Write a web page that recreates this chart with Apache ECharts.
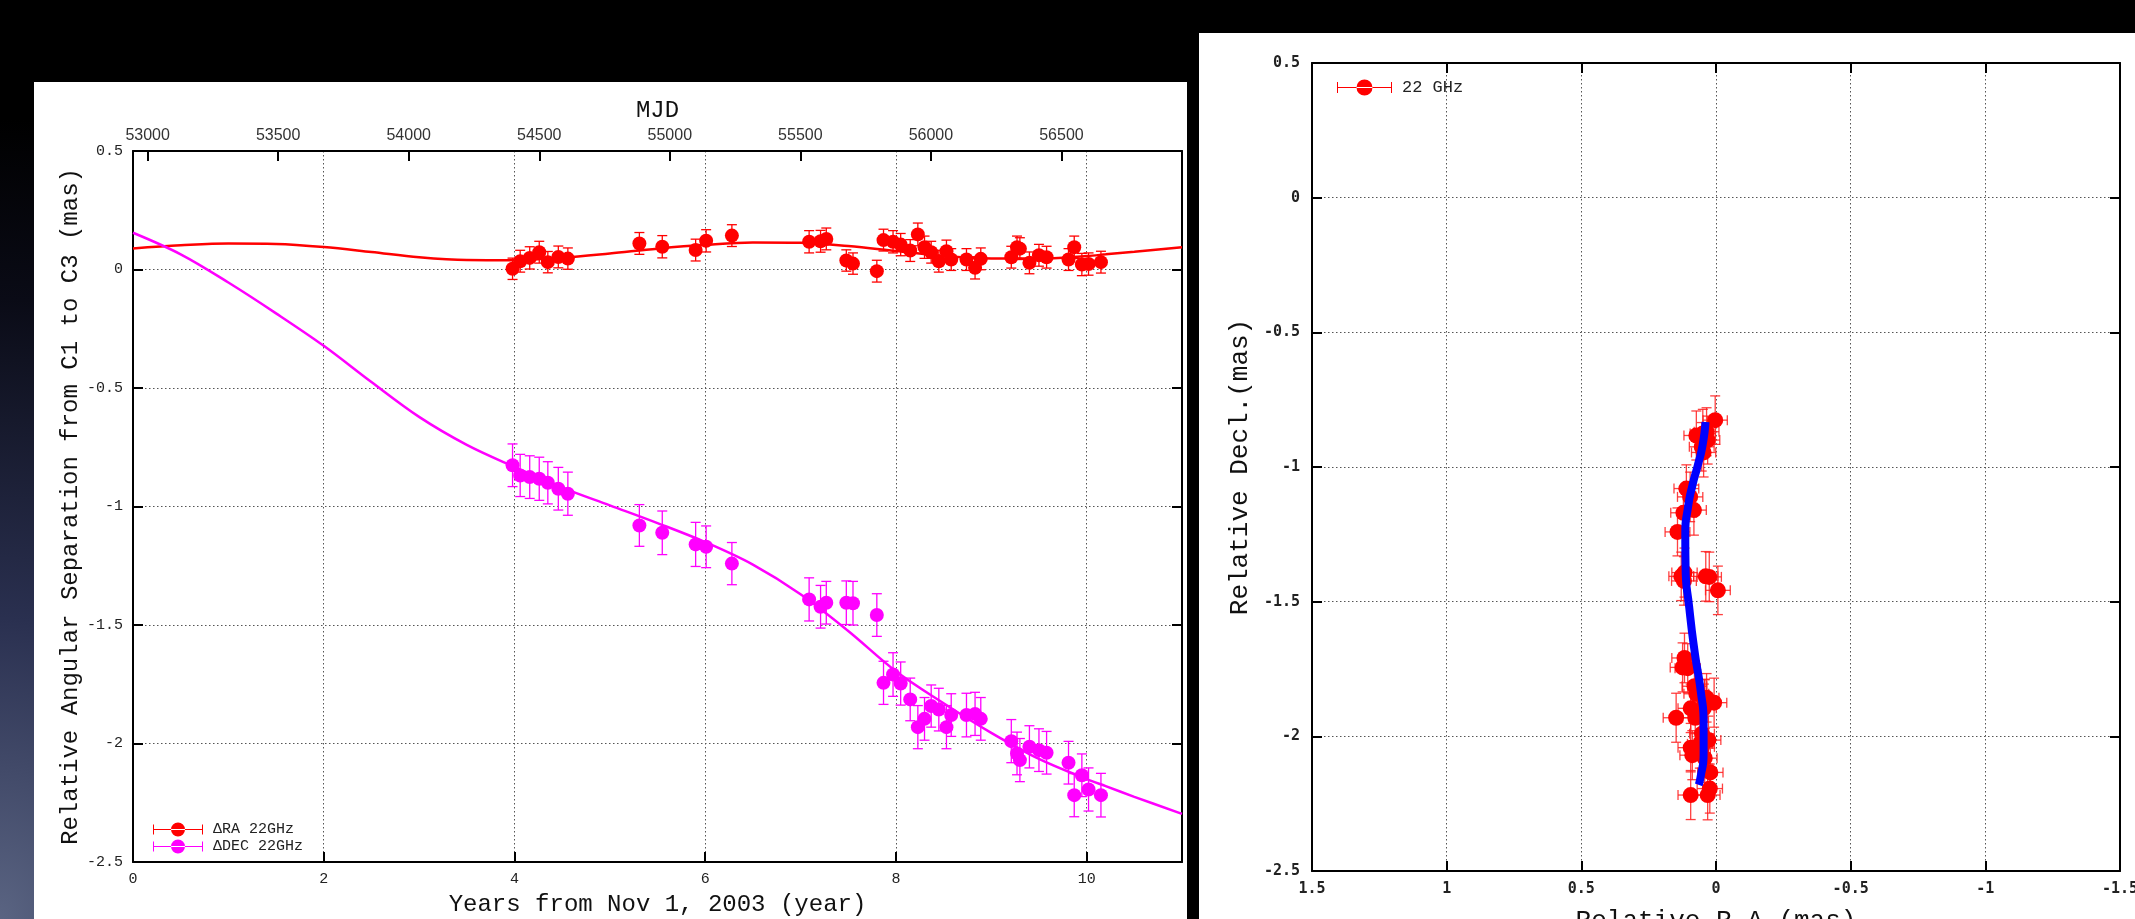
<!DOCTYPE html>
<html>
<head>
<meta charset="utf-8">
<script src="https://cdn.jsdelivr.net/npm/echarts@6/dist/echarts.min.js"></script>
<style>
html,body{margin:0;padding:0;width:2135px;height:919px;overflow:hidden;}
body{position:relative;background:radial-gradient(ellipse 760px 1000px at 0px 919px,#5a6482 0%,#2a3050 30%,#0a0b16 62%,#000 80%),#000;}
#left{position:absolute;left:34px;top:82px;width:1153px;height:837px;background:#fff;}
#right{position:absolute;left:1199px;top:33px;width:936px;height:886px;background:#fff;}
</style>
</head>
<body>
<div id="left"></div>
<div id="right"></div>
<script>
// ---------------- data ----------------
const years = [3.98,4.06,4.16,4.26,4.35,4.46,4.56,5.31,5.55,5.90,6.01,6.28,7.09,7.21,7.27,7.48,7.55,7.80,7.87,7.97,8.05,8.15,8.23,8.30,8.37,8.45,8.53,8.58,8.74,8.83,8.89,9.21,9.27,9.30,9.40,9.50,9.58,9.81,9.87,9.95,10.02,10.15];
const dRA = [0.003,0.035,0.049,0.073,0.031,0.053,0.046,0.110,0.096,0.082,0.121,0.143,0.117,0.119,0.129,0.038,0.025,-0.007,0.124,0.117,0.105,0.080,0.148,0.094,0.073,0.035,0.077,0.042,0.042,0.007,0.045,0.052,0.094,0.088,0.028,0.060,0.052,0.042,0.094,0.021,0.023,0.031];
const raErr = [0.045,0.046,0.047,0.046,0.045,0.046,0.045,0.046,0.047,0.046,0.047,0.046,0.047,0.046,0.046,0.045,0.045,0.046,0.046,0.047,0.047,0.046,0.048,0.047,0.046,0.046,0.047,0.046,0.046,0.047,0.046,0.046,0.047,0.046,0.046,0.046,0.046,0.046,0.047,0.047,0.047,0.046];
const dDEC = [-0.826,-0.869,-0.876,-0.883,-0.900,-0.925,-0.946,-1.080,-1.111,-1.160,-1.170,-1.241,-1.392,-1.423,-1.406,-1.406,-1.408,-1.458,-1.744,-1.709,-1.747,-1.814,-1.931,-1.896,-1.842,-1.857,-1.931,-1.880,-1.880,-1.875,-1.896,-1.990,-2.042,-2.070,-2.014,-2.028,-2.039,-2.081,-2.218,-2.134,-2.194,-2.218];
const decErr = [0.090,0.089,0.090,0.091,0.089,0.090,0.091,0.088,0.092,0.093,0.088,0.089,0.091,0.090,0.090,0.092,0.092,0.090,0.091,0.092,0.091,0.090,0.091,0.090,0.089,0.090,0.091,0.090,0.092,0.091,0.090,0.091,0.090,0.091,0.089,0.090,0.090,0.090,0.091,0.090,0.091,0.092];

const fitYears = [0,0.5,1,1.5,2,2.5,3,3.5,4,4.5,5,5.5,6,6.5,7,7.5,8,8.5,9,9.5,10,10.2,10.5,11];
const fitRA  = [0.089,0.102,0.110,0.108,0.095,0.074,0.052,0.040,0.039,0.050,0.068,0.088,0.104,0.114,0.113,0.099,0.078,0.057,0.046,0.046,0.057,0.064,0.075,0.094];
const fitDEC = [0.155,0.064,-0.055,-0.185,-0.322,-0.475,-0.622,-0.740,-0.833,-0.920,-0.995,-1.070,-1.150,-1.245,-1.370,-1.525,-1.695,-1.830,-1.955,-2.065,-2.150,-2.180,-2.225,-2.297];
const trackStart = 4, trackEnd = 10.2;   // span of the fitted track drawn on the sky plot

const mjdTicks = [53000,53500,54000,54500,55000,55500,56000,56500];
const mjdAtYear0 = 52944;      // MJD of Nov 1, 2003
const daysPerYear = 365.25;
const yearMax = 11;

const legendNames = ['\u0394RA 22GHz','\u0394DEC 22GHz'];
const skyLegend = '22 GHz';

// ---------------- helpers ----------------
const MONO = "'Liberation Mono','Courier New',monospace";
const RED = '#ff0000', MAG = '#ff00ff', BLUE = '#0000ff';

function vErr(color, hw){
  return function(params, api){
    const x = api.value(0), y = api.value(1), e = api.value(2);
    const a = api.coord([x, y + e]), b = api.coord([x, y - e]);
    const st = {stroke: color, lineWidth: 1.3, fill: null};
    return {type:'group', children:[
      {type:'line', shape:{x1:a[0],y1:a[1],x2:b[0],y2:b[1]}, style:st},
      {type:'line', shape:{x1:a[0]-hw,y1:a[1],x2:a[0]+hw,y2:a[1]}, style:st},
      {type:'line', shape:{x1:b[0]-hw,y1:b[1],x2:b[0]+hw,y2:b[1]}, style:st}
    ]};
  };
}
function xyErr(color, hw){
  return function(params, api){
    const x = api.value(0), y = api.value(1), ex = api.value(2), ey = api.value(3);
    const a = api.coord([x, y + ey]), b = api.coord([x, y - ey]);
    const l = api.coord([x - ex, y]), r = api.coord([x + ex, y]);
    const st = {stroke: color, lineWidth: 1.3, fill: null};
    return {type:'group', children:[
      {type:'line', shape:{x1:a[0],y1:a[1],x2:b[0],y2:b[1]}, style:st},
      {type:'line', shape:{x1:a[0]-hw,y1:a[1],x2:a[0]+hw,y2:a[1]}, style:st},
      {type:'line', shape:{x1:b[0]-hw,y1:b[1],x2:b[0]+hw,y2:b[1]}, style:st},
      {type:'line', shape:{x1:l[0],y1:l[1],x2:r[0],y2:r[1]}, style:st},
      {type:'line', shape:{x1:l[0],y1:l[1]-hw,x2:l[0],y2:l[1]+hw}, style:st},
      {type:'line', shape:{x1:r[0],y1:r[1]-hw,x2:r[0],y2:r[1]+hw}, style:st}
    ]};
  };
}
const axLine = {onZero:false, lineStyle:{color:'#000', width:2}};
const axTick = {inside:true, length:10, lineStyle:{color:'#000', width:2}};
const grid = {show:true, lineStyle:{color:'#555', width:1, type:[1.5,2.5]}};

// error-bar legend glyphs
const iconL = 'path://M0,6.5h50v1h-50z M0,2h1v10h-1z M49,2h1v10h-1z M18,7a7,7 0 1,0 14,0a7,7 0 1,0 -14,0z';
const iconR = 'path://M0,7.5h55v1h-55z M0,2.5h1v11h-1z M54,2.5h1v11h-1z M19.5,8a8,8 0 1,0 16,0a8,8 0 1,0 -16,0z';

// ---------------- left chart ----------------
const left = echarts.init(document.getElementById('left'), null, {renderer:'canvas'});
left.setOption({
  animation:false,
  grid:{left:99, right:5, top:69, bottom:57, outerBoundsMode:'none', containLabel:false},
  legend:{
    data:[{name:legendNames[0], icon:iconL},{name:legendNames[1], icon:iconL}],
    orient:'vertical', left:114, top:735, itemWidth:50, itemHeight:14, itemGap:2,
    selectedMode:false,
    textStyle:{fontFamily:MONO, fontSize:15, color:'#222', padding:[0,0,0,5]}
  },
  xAxis:[
    {type:'value', position:'bottom', min:0, max:yearMax, interval:2,
     axisLine:axLine, axisTick:axTick, splitLine:grid,
     axisLabel:{fontFamily:MONO, fontSize:15, color:'#222', margin:10, showMaxLabel:false},
     name:'Years from Nov 1, 2003 (year)', nameLocation:'middle', nameGap:31,
     nameTextStyle:{fontFamily:MONO, fontSize:24, color:'#111'}},
    {type:'value', position:'top', min:mjdAtYear0, max:mjdAtYear0 + yearMax*daysPerYear,
     axisLine:axLine,
     axisTick:Object.assign({customValues:mjdTicks}, axTick),
     axisLabel:{customValues:mjdTicks, formatter:v => String(v),
       fontFamily:"'Liberation Sans','DejaVu Sans',sans-serif", fontSize:16, color:'#333', margin:7},
     splitLine:{show:false},
     name:'MJD', nameLocation:'middle', nameGap:22,
     nameTextStyle:{fontFamily:MONO, fontSize:24, color:'#111'}}
  ],
  yAxis:[
    {type:'value', position:'left', min:-2.5, max:0.5, interval:0.5,
     axisLine:axLine, axisTick:axTick, splitLine:grid,
     axisLabel:{fontFamily:MONO, fontSize:15, color:'#222', margin:10},
     name:'Relative Angular Separation from C1 to C3 (mas)', nameLocation:'middle', nameGap:50,
     nameMoveOverlap:false,
     nameTextStyle:{fontFamily:MONO, fontSize:24, color:'#111'}},
    {type:'value', position:'right', min:-2.5, max:0.5, interval:0.5,
     axisLine:axLine, axisTick:axTick, splitLine:{show:false}, axisLabel:{show:false}}
  ],
  series:[
    {name:'RA fit', type:'line', xAxisIndex:0, yAxisIndex:0, smooth:0.35, showSymbol:false, silent:true,
     data:fitYears.map((t,i)=>[t, fitRA[i]]), lineStyle:{color:RED, width:2.5}, itemStyle:{color:RED}, z:2},
    {name:'DEC fit', type:'line', xAxisIndex:0, yAxisIndex:0, smooth:0.35, showSymbol:false, silent:true,
     data:fitYears.map((t,i)=>[t, fitDEC[i]]), lineStyle:{color:MAG, width:2.5}, itemStyle:{color:MAG}, z:2},
    {name:'RA err', type:'custom', xAxisIndex:0, yAxisIndex:0, renderItem:vErr(RED,5), encode:{x:0,y:1},
     data:years.map((t,i)=>[t, dRA[i], raErr[i]]), z:3},
    {name:'DEC err', type:'custom', xAxisIndex:0, yAxisIndex:0, renderItem:vErr(MAG,5), encode:{x:0,y:1},
     data:years.map((t,i)=>[t, dDEC[i], decErr[i]]), z:3},
    {name:legendNames[0], type:'scatter', xAxisIndex:0, yAxisIndex:0, symbolSize:14,
     data:years.map((t,i)=>[t, dRA[i]]), itemStyle:{color:RED, opacity:1}, z:4},
    {name:legendNames[1], type:'scatter', xAxisIndex:0, yAxisIndex:0, symbolSize:14,
     data:years.map((t,i)=>[t, dDEC[i]]), itemStyle:{color:MAG, opacity:1}, z:4}
  ]
});

// ---------------- right chart ----------------
const right = echarts.init(document.getElementById('right'), null, {renderer:'canvas'});
const skyLab = {fontFamily:"'DejaVu Sans Mono',monospace", fontWeight:'bold', fontSize:15, color:'#222'};
const track = fitYears.map((t,i)=>[fitRA[i], fitDEC[i], t]).filter(p => p[2] >= trackStart && p[2] <= trackEnd);
right.setOption({
  animation:false,
  grid:{left:113, right:15, top:30, bottom:48, outerBoundsMode:'none', containLabel:false},
  legend:{
    data:[{name:skyLegend, icon:iconR}],
    left:133, top:41, itemWidth:55, itemHeight:16, selectedMode:false,
    textStyle:{fontFamily:MONO, fontSize:17, color:'#222', padding:[0,0,0,5]}
  },
  xAxis:[
    {type:'value', position:'bottom', min:-1.5, max:1.5, interval:0.5, inverse:true,
     axisLine:axLine, axisTick:axTick, splitLine:grid,
     axisLabel:Object.assign({margin:11}, skyLab),
     name:'Relative R.A.(mas)', nameLocation:'middle', nameGap:37,
     nameTextStyle:{fontFamily:MONO, fontSize:26, color:'#111'}},
    {type:'value', position:'top', min:-1.5, max:1.5, interval:0.5, inverse:true,
     axisLine:axLine, axisTick:axTick, splitLine:{show:false}, axisLabel:{show:false}}
  ],
  yAxis:[
    {type:'value', position:'left', min:-2.5, max:0.5, interval:0.5,
     axisLine:axLine, axisTick:axTick, splitLine:grid,
     axisLabel:Object.assign({margin:12}, skyLab),
     name:'Relative Decl.(mas)', nameLocation:'middle', nameGap:57,
     nameTextStyle:{fontFamily:MONO, fontSize:26, color:'#111'}},
    {type:'value', position:'right', min:-2.5, max:0.5, interval:0.5,
     axisLine:axLine, axisTick:axTick, splitLine:{show:false}, axisLabel:{show:false}}
  ],
  series:[
    {name:'err', type:'custom', xAxisIndex:0, yAxisIndex:0, renderItem:xyErr('rgba(255,30,30,0.85)',5), encode:{x:0,y:1},
     data:years.map((t,i)=>[dRA[i], dDEC[i], raErr[i], decErr[i]]), z:3},
    {name:skyLegend, type:'scatter', xAxisIndex:0, yAxisIndex:0, symbolSize:16,
     data:years.map((t,i)=>[dRA[i], dDEC[i]]), itemStyle:{color:RED, opacity:1}, z:4},
    {name:'track', type:'line', xAxisIndex:0, yAxisIndex:0, smooth:0.6, showSymbol:false, silent:true,
     data:track.map(p=>[p[0], p[1]]), lineStyle:{color:BLUE, width:8, cap:'butt'}, itemStyle:{color:BLUE}, z:6}
  ]
});
</script>
</body>
</html>
